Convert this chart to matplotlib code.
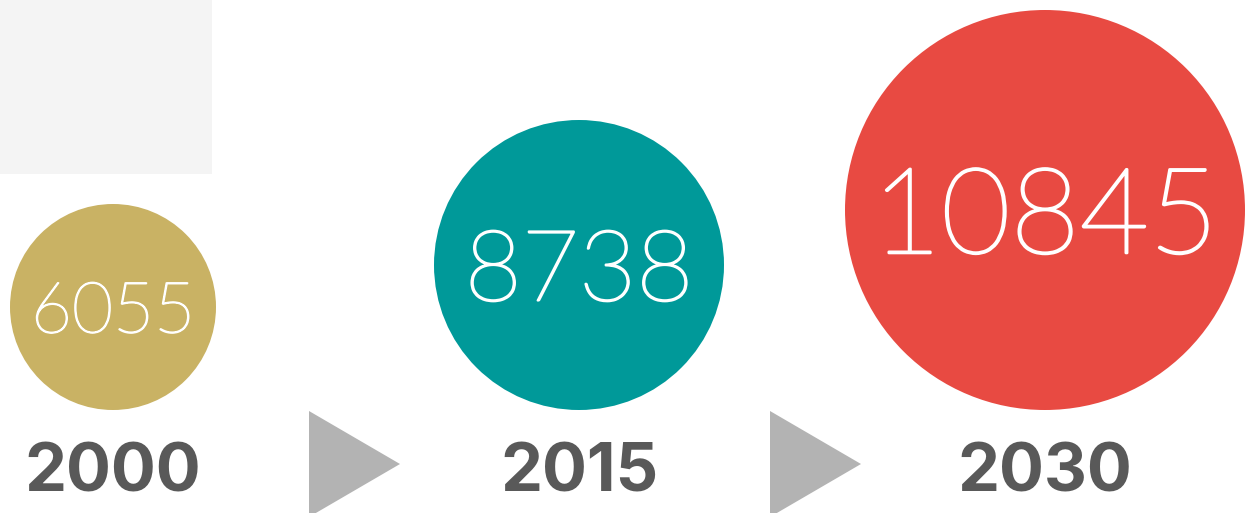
import matplotlib
matplotlib.use("Agg")
import matplotlib.pyplot as plt
from matplotlib.patches import Circle, Rectangle, Polygon
import matplotlib.patheffects as pe

# DATA
years = ["2000", "2015", "2030"]
values = [6055, 8738, 10845]

# STYLE / LAYOUT (pixels, y goes down)
colors = ["#C9B264", "#009999", "#E84A42"]
centers_x = [113, 579, 1045]
radii = [103, 145, 200]
base_y = 410
num_sizes = [51, 71, 86]
year_color = "#595959"
arrow_color = "#B3B3B3"
arrow_left = [309, 770]

W, H = 1245, 513
fig = plt.figure(figsize=(W / 100, H / 100), dpi=100)
ax = fig.add_axes([0, 0, 1, 1])
ax.set_xlim(0, W)
ax.set_ylim(H, 0)
ax.set_aspect("equal")
ax.axis("off")

# light grey block top left
ax.add_patch(Rectangle((0, 0), 212, 174, color="#F4F4F4", lw=0))

for i, (year, val) in enumerate(zip(years, values)):
    cx = centers_x[i]
    r = radii[i]
    cy = base_y - r
    ax.add_patch(Circle((cx, cy), r, color=colors[i], lw=0))
    # thin number inside the circle, thickened a bit with a white stroke
    sz = num_sizes[i]
    ax.text(cx, cy + sz / 2, str(val), color="white",
            fontsize=sz, family="Lato", weight="light",
            ha="center", va="baseline",
            path_effects=[pe.withStroke(linewidth=sz * 0.022, foreground="white")])
    ax.text(cx, 492, year, color=year_color, fontsize=48,
            family="Inter", weight="bold", ha="center", va="baseline")

# grey arrows between the years
for x0 in arrow_left:
    ax.add_patch(Polygon([(x0, 411), (x0 + 91, 464), (x0, 517)],
                         closed=True, color=arrow_color, lw=0))

fig.savefig("out.png", dpi=100)
